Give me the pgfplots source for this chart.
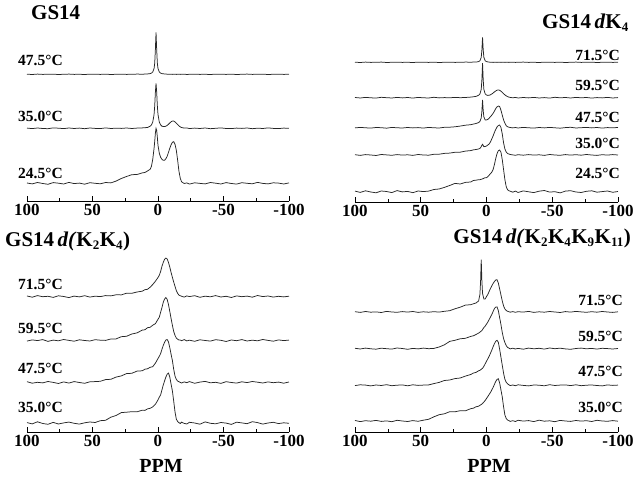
\documentclass[border=0pt]{standalone}
\usepackage{fontspec}
\setmainfont{Liberation Serif}
\usepackage{pgfplots}
\usepackage{pgfplotstable}
\pgfplotsset{compat=1.18}

% top-left panel: GS14  (a=47.5, b=35.0, c=24.5)
\pgfplotstableread{
x a b c
100 127.3 73.4 18.5
96 127.0 72.9 17.6
92 127.4 73.5 19.0
88 127.1 73.0 18.0
84 127.2 72.8 17.2
80 127.3 73.6 18.9
76 127.0 73.3 18.3
72 127.2 72.9 17.5
68 127.4 73.5 19.1
64 127.1 73.0 17.9
60 127.2 73.4 18.4
56 127.0 72.8 17.3
52 127.3 73.5 18.8
48 127.2 73.1 18.2
44 127.1 72.9 17.7
40 127.3 73.6 19.0
36 127.0 73.0 18.6
32 127.2 73.3 20.4
28 127.3 73.1 23.0
24 127.1 73.5 25.0
20 127.2 73.0 26.8
16 127.4 73.4 27.0
12 127.3 73.6 28.6
10 127.4 73.8 29.0
8 127.55 74.0 30.5
6 127.9 75.3 32.2
5 128.4 76.6 35.2
4 129.5 79.4 42.2
3 133.0 87.0 53.2
2.5 138.3 95.7 60.2
2 152.0 109.2 68.2
1.5 169.2 118.2 73.2
1 152.0 109.2 71.2
0.5 138.3 95.7 64.2
0 133.0 87.0 56.2
-1 129.5 79.4 48.2
-2 128.4 76.6 44.2
-3 127.9 75.3 42.2
-4 127.7 75.0 41.2
-5 127.55 74.9 41.2
-6 127.45 75.3 42.7
-7 127.3 76.1 45.2
-8 127.3 77.2 49.2
-9 127.2 78.5 53.2
-10 127.3 79.8 56.7
-11 127.1 80.4 59.2
-12 127.2 80.4 59.8
-13 127.3 79.6 57.2
-14 127.1 78.3 51.2
-15 127.2 76.9 41.2
-16 127.3 75.6 30.2
-17 127.1 74.6 23.2
-18 127.2 74.0 19.7
-20 127.3 73.4 18.0
-22 127.0 73.6 18.6
-24 127.2 72.9 17.4
-28 127.3 73.4 18.7
-32 127.1 73.0 18.1
-36 127.2 73.5 17.6
-40 127.0 72.8 19.0
-44 127.3 73.2 18.3
-48 127.2 73.6 17.5
-52 127.1 73.0 18.9
-56 127.3 72.9 18.0
-60 127.0 73.4 17.4
-64 127.2 73.1 18.8
-68 127.4 73.5 18.2
-72 127.1 72.8 17.7
-76 127.2 73.3 19.1
-80 127.3 73.0 18.1
-84 127.0 73.6 17.6
-88 127.2 73.1 18.7
-92 127.3 72.9 18.4
-96 127.1 73.4 17.5
-100 127.2 73.2 18.6
}\tl

% top-right panel: GS14dK4 (a=71.5, b=59.5, c=47.5, d=35.0, e=24.5)
\pgfplotstableread{
x a b c d e
100 139.8 104.5 74.1 47.3 10.9
96 139.5 104.0 74.6 46.6 9.6
92 139.9 104.6 74.2 47.4 11.2
88 139.6 104.2 73.9 47.0 10.0
84 139.7 103.9 74.5 46.5 9.2
80 139.9 104.7 74.3 47.5 11.0
76 139.5 104.3 73.8 47.1 10.5
72 139.7 104.0 74.6 46.7 9.4
68 139.8 104.6 74.2 47.4 11.4
64 139.6 104.1 74.0 46.9 10.1
60 139.7 104.5 74.5 47.2 10.6
56 139.5 103.9 74.1 46.6 9.3
52 139.8 104.6 74.4 47.5 11.0
48 139.7 104.2 73.9 47.0 10.4
44 139.6 104.0 74.6 46.8 10.9
40 139.8 104.7 74.2 47.7 12.5
36 139.5 104.1 74.0 47.8 13.0
32 139.7 104.4 74.7 48.6 14.6
28 139.8 104.2 74.8 48.9 16.5
24 139.6 104.6 75.2 49.7 18.6
20 139.7 104.3 75.9 49.8 18.0
16 139.9 104.5 76.8 50.9 19.6
12 139.8 104.9 77.3 51.4 20.0
10 139.9 105.2 77.9 52.1 21.5
8 139.9 105.6 78.5 52.5 21.8
6 140.4 106.7 79.4 53.0 22.3
5 141.2 108.0 80.6 53.6 22.3
4 144.7 112.6 84.1 55.3 22.8
3.5 152.2 122.3 90.9 56.8 22.8
3 164.7 138.8 102.0 57.7 23.3
2.5 152.2 122.3 91.4 56.6 23.3
2 144.7 112.6 85.1 55.3 23.8
1 141.2 108.1 82.1 55.5 24.3
0 140.4 107.0 82.1 56.0 24.3
-1 140.1 106.6 82.6 57.0 25.3
-2 139.9 106.7 83.8 58.0 26.8
-3 139.7 107.2 85.3 60.0 28.3
-4 139.8 108.0 86.8 63.0 29.8
-5 139.6 108.9 88.6 66.0 32.3
-6 139.7 110.1 90.8 69.5 37.3
-7 139.8 111.0 93.3 72.5 43.3
-8 139.6 111.8 95.1 75.0 48.3
-9 139.7 112.1 95.9 76.5 51.3
-10 139.8 111.7 95.5 77.0 52.0
-11 139.6 110.8 91.8 74.5 49.8
-12 139.7 109.6 86.8 68.0 42.3
-13 139.8 108.3 82.0 59.0 32.3
-14 139.6 107.1 78.8 53.0 22.3
-15 139.7 106.1 76.3 50.0 15.3
-16 139.8 105.4 75.3 48.5 12.3
-17 139.6 104.9 74.8 48.0 11.3
-18 139.7 104.6 74.5 47.5 10.8
-20 139.8 104.2 74.1 47.1 9.8
-22 139.6 104.6 74.5 46.7 10.9
-24 139.7 104.0 74.0 47.3 9.5
-28 139.9 104.5 74.6 46.8 11.1
-32 139.6 104.1 74.2 47.4 10.2
-36 139.7 104.6 73.9 46.9 9.4
-40 139.5 104.0 74.5 47.2 10.8
-44 139.8 104.4 74.1 46.6 11.5
-48 139.7 103.9 74.6 47.5 9.9
-52 139.6 104.7 74.2 47.0 10.3
-56 139.8 104.2 73.8 46.7 9.1
-60 139.5 104.5 74.4 47.4 10.9
-64 139.7 104.0 74.7 46.9 11.3
-68 139.9 104.6 74.0 47.3 10.0
-72 139.6 104.2 74.3 46.8 9.5
-76 139.7 104.5 74.6 47.5 10.7
-80 139.8 103.9 74.1 47.0 11.2
-84 139.5 104.4 74.5 46.6 9.8
-88 139.7 104.1 73.9 47.3 10.4
-92 139.8 104.6 74.4 46.9 11.0
-96 139.6 104.0 74.2 47.4 9.7
-100 139.7 104.4 74.5 47.0 10.5
}\trt

% bottom-left panel: GS14d(K2K4) (a=71.5, b=59.5, c=47.5, d=35.0)
\pgfplotstableread{
x a b c d
100 136.5 91.4 50.8 9.9
96 135.3 92.6 49.3 8.6
92 136.9 91.9 50.2 10.7
88 135.8 92.9 49.6 9.0
84 136.2 91.1 51.0 8.2
80 135.1 92.4 50.1 10.1
76 136.7 91.7 49.0 8.5
72 136.0 93.0 50.6 9.6
68 134.9 92.1 49.4 10.4
64 136.4 91.3 50.9 9.2
60 135.6 92.7 50.0 8.4
56 136.8 92.0 49.2 9.7
52 135.4 91.5 50.7 10.5
48 136.3 92.8 50.9 10.0
44 135.9 92.3 51.2 11.8
40 136.9 92.1 52.9 12.2
36 136.6 93.5 53.2 15.3
32 137.7 93.6 55.4 17.0
28 137.6 95.8 56.6 19.9
24 139.3 96.2 58.9 20.3
20 139.2 98.5 59.2 20.8
16 140.5 99.6 61.4 20.7
12 141.3 102.4 61.7 22.3
10 142.8 102.7 63.3 22.1
8 143.2 104.8 63.7 23.6
6 145.3 105.2 65.2 24.2
4 148.0 107.3 65.8 25.6
2 151.2 108.8 69.3 28.2
0 155.0 113.2 74.0 32.6
-1 157.2 115.3 76.2 35.3
-2 161.0 120.2 78.9 37.6
-3 166.1 124.8 83.1 42.5
-4 170.0 130.1 87.0 47.4
-5 173.1 133.4 90.1 51.5
-6 174.4 135.0 92.5 55.4
-7 173.5 133.1 93.0 58.3
-8 170.1 127.9 90.6 59.4
-9 165.4 121.1 84.9 55.5
-10 160.0 113.9 78.1 48.3
-11 155.1 107.1 71.9 41.5
-12 150.4 101.0 63.1 31.3
-13 146.1 97.1 56.4 20.5
-14 141.9 94.4 53.1 13.3
-15 139.1 93.3 51.4 11.0
-16 137.4 92.5 50.8 9.8
-17 136.8 92.4 50.1 9.0
-18 136.2 91.8 49.5 10.3
-20 135.4 92.9 50.6 9.1
-22 136.6 91.6 49.8 8.5
-24 135.9 92.3 50.9 10.2
-28 136.8 91.2 49.2 9.5
-32 135.2 92.7 50.4 8.3
-36 136.3 92.0 51.1 10.6
-40 135.7 91.4 49.7 9.2
-44 136.9 92.8 50.2 8.7
-48 135.5 92.2 49.1 10.0
-52 136.2 91.0 50.8 9.4
-56 135.0 92.5 50.0 8.1
-60 136.6 91.8 49.4 10.3
-64 135.8 92.9 50.7 9.6
-68 136.4 91.5 49.9 8.8
-72 135.3 92.3 51.0 10.8
-76 137.0 91.7 50.3 9.9
-80 135.9 93.0 49.5 8.4
-84 136.5 92.1 50.6 9.5
-88 135.4 91.3 49.8 10.2
-92 136.2 92.6 50.4 8.9
-96 135.6 91.9 49.3 9.7
-100 136.3 92.4 50.5 9.2
}\blt

% bottom-right panel: GS14d(K2K4K9K11) (a=71.5, b=59.5, c=47.5, d=35.0)
\pgfplotstableread{
x a b c d
100 120.3 83.7 46.4 11.5
96 119.6 83.0 47.2 10.4
92 120.5 83.9 46.9 11.3
88 119.8 83.2 46.1 10.8
84 120.1 82.8 47.0 11.6
80 119.5 83.8 46.5 10.6
76 120.6 83.3 47.3 11.1
72 120.0 82.9 46.3 10.3
68 119.7 84.0 46.8 11.7
64 120.4 83.5 47.1 11.0
60 119.9 82.7 46.2 10.5
56 120.5 83.6 47.2 11.4
52 119.6 83.1 46.6 10.7
48 120.2 83.9 46.9 11.8
44 119.8 83.3 47.1 12.7
40 120.3 83.6 48.4 15.2
36 119.9 85.0 49.6 17.3
32 120.7 87.2 51.5 18.2
28 121.3 90.6 52.0 20.3
24 123.2 91.7 53.4 20.2
20 124.8 93.2 54.0 21.3
16 126.9 93.7 55.9 21.2
12 127.3 95.6 57.5 23.3
10 128.2 96.2 58.9 23.8
8 129.0 97.5 59.6 25.2
6 131.0 98.9 61.2 25.8
5 137.6 99.9 61.7 26.7
4.5 150.5 100.4 62.2 27.0
4 172.3 100.9 62.7 27.5
3.5 151.0 101.4 63.2 28.0
3 138.6 102.4 63.7 28.5
2 133.0 104.4 65.7 30.0
1 133.0 105.9 68.2 31.5
0 135.5 107.9 70.7 33.5
-1 137.5 109.9 73.2 35.5
-2 140.5 112.4 75.7 37.5
-3 143.5 114.9 78.7 39.5
-4 146.0 117.4 81.7 42.0
-5 148.5 120.4 85.2 44.5
-6 150.5 123.4 88.2 47.5
-7 152.0 124.9 90.7 50.5
-8 152.3 125.1 91.7 52.5
-9 149.0 121.4 89.7 53.3
-10 143.0 114.4 82.7 49.0
-11 137.0 107.4 74.7 42.0
-12 131.0 99.4 66.7 35.0
-13 126.0 93.4 58.7 25.0
-14 123.0 89.4 52.7 17.0
-15 121.5 86.4 49.7 13.5
-16 120.7 84.6 48.2 12.0
-17 120.3 83.9 47.2 11.4
-18 119.8 83.1 46.4 10.6
-20 120.4 83.8 47.0 11.3
-22 119.7 83.0 46.3 10.5
-24 120.3 83.6 47.2 11.7
-28 119.9 82.8 46.6 10.9
-32 120.6 83.9 46.1 11.4
-36 119.6 83.2 47.0 10.4
-40 120.2 83.7 46.8 11.8
-44 119.8 82.9 46.2 10.8
-48 120.5 84.0 47.3 11.2
-52 120.0 83.3 46.5 10.3
-56 119.5 83.8 46.9 11.6
-60 120.4 83.1 47.1 11.0
-64 119.9 82.7 46.4 10.6
-68 120.6 83.5 47.2 11.5
-72 120.1 83.9 46.3 10.9
-76 119.7 83.2 46.8 11.3
-80 120.3 83.6 47.0 10.5
-84 119.8 82.9 46.5 11.7
-88 120.5 83.7 46.1 11.0
-92 120.0 83.4 47.1 10.7
-96 119.6 83.0 46.6 11.4
-100 120.2 83.5 46.9 10.8
}\brt

\pgfplotsset{
  spec/.style={
    scale only axis, width=262pt, height=180pt,
    xmin=-100, xmax=100, x dir=reverse, ymin=0, ymax=180,
    axis x line=bottom, axis y line=none, ytick=\empty,
    axis line style={-, line width=0.7pt, black},
    xtick={-100,-50,0,50,100}, xticklabels={-100,-50,0,50,100},
    minor xtick={-75,-25,25,75},
    tick align=inside, major tick length=5pt, minor tick length=3pt,
    tick style={line width=0.6pt, black},
    xticklabel style={font=\fontsize{17}{17}\selectfont\bfseries, inner sep=2pt, yshift=-1pt},
    clip=false},
  tr/.style={black!85, line width=0.75pt, no marks}
}
\newcommand\lab{\fontsize{15.5}{15.5}\selectfont\bfseries}
\newcommand\ttl{\fontsize{21}{21}\selectfont\bfseries}
\newcommand\sub[1]{\textsubscript{\fontsize{13}{13}\selectfont #1}}

\begin{document}
\begin{tikzpicture}
\useasboundingbox (0,0) rectangle (638pt,478pt);

\begin{axis}[spec, at={(27pt,276.5pt)}, anchor=south west]
\addplot[tr] table[x=x,y=a]{\tl};
\addplot[tr] table[x=x,y=b]{\tl};
\addplot[tr] table[x=x,y=c]{\tl};
\end{axis}

\begin{axis}[spec, width=263pt, at={(355pt,276pt)}, anchor=south west]
\addplot[tr] table[x=x,y=a]{\trt};
\addplot[tr] table[x=x,y=b]{\trt};
\addplot[tr] table[x=x,y=c]{\trt};
\addplot[tr] table[x=x,y=d]{\trt};
\addplot[tr] table[x=x,y=e]{\trt};
\end{axis}

\begin{axis}[spec, at={(27pt,45.5pt)}, anchor=south west]
\addplot[tr] table[x=x,y=a]{\blt};
\addplot[tr] table[x=x,y=b]{\blt};
\addplot[tr] table[x=x,y=c]{\blt};
\addplot[tr] table[x=x,y=d]{\blt};
\end{axis}

\begin{axis}[spec, width=263pt, at={(355pt,46pt)}, anchor=south west]
\addplot[tr] table[x=x,y=a]{\brt};
\addplot[tr] table[x=x,y=b]{\brt};
\addplot[tr] table[x=x,y=c]{\brt};
\addplot[tr] table[x=x,y=d]{\brt};
\end{axis}

% titles
\node[anchor=base west, inner sep=0pt] at (31pt,458pt) {\ttl GS14};
\node[anchor=base east, inner sep=0pt] at (629pt,449.7pt) {\ttl GS14\,\textit{d}K\sub{4}};
\node[anchor=base west, inner sep=0pt] at (5pt,231.3pt) {\ttl GS14\,\textit{d(}K\sub{2}K\sub{4})};
\node[anchor=base east, inner sep=0pt] at (631pt,234.7pt) {\ttl GS14\,\textit{d(}K\sub{2}K\sub{4}K\sub{9}K\sub{11})};

% temperature labels
\node[anchor=base west, inner sep=0pt] at (18pt,412.3pt) {\lab 47.5°C};
\node[anchor=base west, inner sep=0pt] at (18pt,356.3pt) {\lab 35.0°C};
\node[anchor=base west, inner sep=0pt] at (18pt,299.7pt) {\lab 24.5°C};

\node[anchor=base east, inner sep=0pt] at (620pt,417.3pt) {\lab 71.5°C};
\node[anchor=base east, inner sep=0pt] at (620pt,387.3pt) {\lab 59.5°C};
\node[anchor=base east, inner sep=0pt] at (620pt,355.7pt) {\lab 47.5°C};
\node[anchor=base east, inner sep=0pt] at (620pt,329pt) {\lab 35.0°C};
\node[anchor=base east, inner sep=0pt] at (620pt,299pt) {\lab 24.5°C};

\node[anchor=base west, inner sep=0pt] at (18pt,188pt) {\lab 71.5°C};
\node[anchor=base west, inner sep=0pt] at (18pt,144pt) {\lab 59.5°C};
\node[anchor=base west, inner sep=0pt] at (18pt,104pt) {\lab 47.5°C};
\node[anchor=base west, inner sep=0pt] at (18pt,65.7pt) {\lab 35.0°C};

\node[anchor=base east, inner sep=0pt] at (623pt,172.3pt) {\lab 71.5°C};
\node[anchor=base east, inner sep=0pt] at (623pt,136.3pt) {\lab 59.5°C};
\node[anchor=base east, inner sep=0pt] at (623pt,101.3pt) {\lab 47.5°C};
\node[anchor=base east, inner sep=0pt] at (623pt,65.7pt) {\lab 35.0°C};

% PPM axis titles
\node[anchor=center, inner sep=0pt] at (161pt,12.5pt) {\fontsize{20}{20}\selectfont\bfseries PPM};
\node[anchor=center, inner sep=0pt] at (489pt,12.5pt) {\fontsize{20}{20}\selectfont\bfseries PPM};
\end{tikzpicture}
\end{document}
